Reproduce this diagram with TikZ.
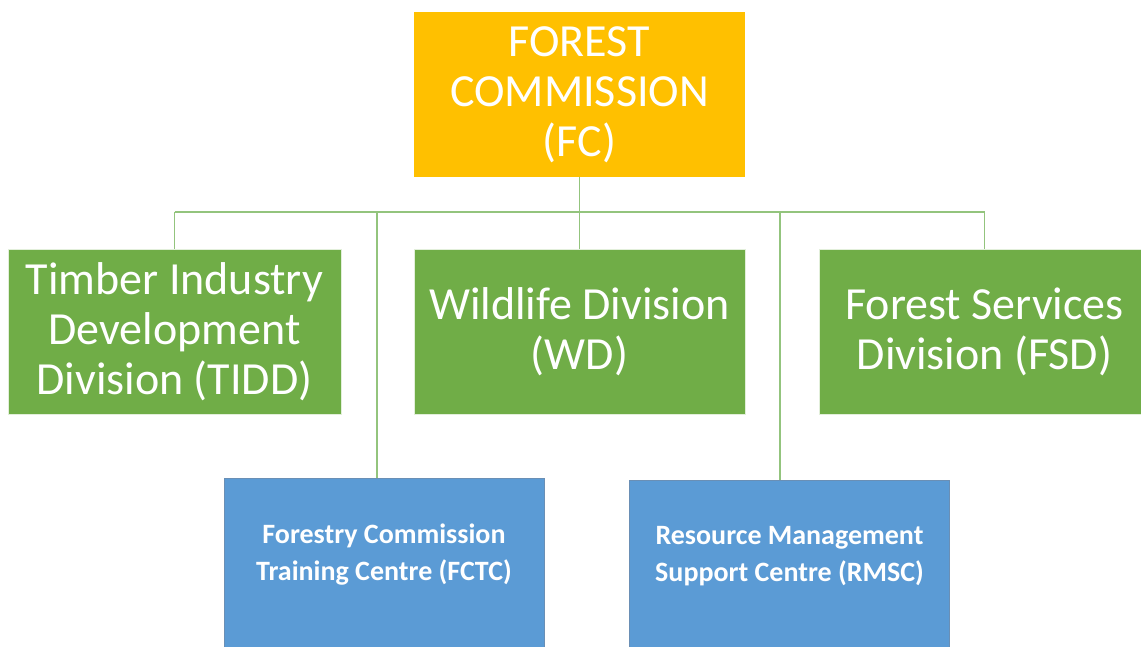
\documentclass[tikz,border=0pt]{standalone}
\usepackage{fontspec}
\setmainfont{Carlito}
\usetikzlibrary{calc}
\definecolor{fcorange}{HTML}{FFC000}
\definecolor{divgreen}{HTML}{70AD47}
\definecolor{centreblue}{HTML}{5B9BD5}
\definecolor{linkgreen}{HTML}{93C47D}
\definecolor{blueedge}{HTML}{6A8FB5}
\begin{document}
\begin{tikzpicture}[x=1pt,y=-1pt,
  box/.style={minimum width=331pt,minimum height=165pt,inner sep=0pt,
    text=white,align=center,font=\fontsize{46}{50}\selectfont},
  headbox/.style={box,fill=fcorange},
  divbox/.style={box,fill=divgreen,draw=white!80!divgreen,line width=0.8pt},
  centrebox/.style={minimum width=320pt,minimum height=200pt,inner sep=0pt,
    fill=centreblue,draw=blueedge,line width=0.8pt},
  centretext/.style={text=white,align=center,inner sep=0pt,
    font=\bfseries\fontsize{28}{37}\selectfont},
  link/.style={draw=linkgreen,line width=1.6pt}]
\useasboundingbox (0,0) rectangle (1141,646);
\clip (0,0) rectangle (1141,646);

% head of the organisation
\node[headbox] (fc) at (579.5,94.5) {FOREST\\COMMISSION\\(FC)};

% divisions
\node[divbox,minimum width=333pt] (tidd) at (174.5,331.5)
  {Timber Industry\\Development\\Division (TIDD)};
\node[divbox] (wd) at (579.5,331.5) {Wildlife Division\\(WD)};
\node[divbox] (fsd) at (984.5,331.5) {Forest Services\\Division (FSD)};

% support centres
\node[centrebox] (fctc) at (384,578) {};
\node[centretext] (fctctext) at (384,555) {Forestry Commission\\Training Centre (FCTC)};
\node[centrebox] (rmsc) at (789.5,580) {};
\node[centretext] (rmsctext) at (789.5,556) {Resource Management\\Support Centre (RMSC)};

% bus line under the head
\coordinate (bus) at ($(fc.south)+(0,35)$);
\coordinate (busL) at (bus -| tidd.north);
\coordinate (busR) at (bus -| fsd.north);
\path[link] (busL) -- (busR);
\path[link] (fc.south) -- (wd.north);
\path[link] (busL) -- (tidd.north);
\path[link] (busR) -- (fsd.north);
\coordinate (fctcTop) at ([xshift=-7pt]fctc.north);
\coordinate (rmscTop) at ([xshift=-9.5pt]rmsc.north);
\path[link] (bus -| fctcTop) -- (fctcTop);
\path[link] (bus -| rmscTop) -- (rmscTop);
\end{tikzpicture}
\end{document}
